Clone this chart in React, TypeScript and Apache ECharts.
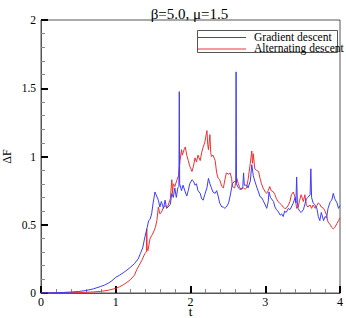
import React, { useEffect, useRef } from "react";
import * as echarts from "echarts";

const titleText = "β=5.0, μ=1.5";
const seriesNames = ["Gradient descent", "Alternating descent"];
const seriesColors = ["#3b3bff", "#f03030"];
const xTicks = [0, 1, 2, 3, 4];
const yTicks = [0, 0.5, 1, 1.5, 2];

const gradientDescent: [number, number][] = [
  [0, 0], [0.1, 0.001], [0.2, 0.002], [0.3, 0.004], [0.4, 0.007], [0.5, 0.011], [0.6, 0.018], [0.7, 0.03],
  [0.8, 0.048], [0.85, 0.058], [0.9, 0.072], [0.95, 0.09], [1.0, 0.115], [1.05, 0.13], [1.1, 0.148], [1.15, 0.168],
  [1.2, 0.19], [1.25, 0.215], [1.3, 0.25], [1.33, 0.29], [1.36, 0.33], [1.39, 0.41], [1.42, 0.48], [1.44, 0.53],
  [1.46, 0.54], [1.48, 0.58], [1.5, 0.66], [1.525, 0.74], [1.54, 0.72], [1.57, 0.68], [1.59, 0.63], [1.61, 0.67],
  [1.64, 0.62], [1.66, 0.68], [1.68, 0.62], [1.7, 0.63], [1.73, 0.65], [1.75, 0.73], [1.77, 0.7], [1.79, 0.77],
  [1.81, 0.7], [1.83, 0.77], [1.845, 0.78], [1.85, 1.475], [1.855, 0.8], [1.88, 0.75], [1.9, 0.79], [1.93, 0.74],
  [1.95, 0.71], [1.97, 0.75], [1.99, 0.8], [2.02, 0.83], [2.04, 0.82], [2.06, 0.79], [2.08, 0.8], [2.1, 0.75],
  [2.13, 0.73], [2.15, 0.69], [2.17, 0.68], [2.19, 0.72], [2.22, 0.77], [2.24, 0.84], [2.26, 0.8], [2.28, 0.77],
  [2.3, 0.74], [2.33, 0.73], [2.35, 0.75], [2.37, 0.71], [2.39, 0.66], [2.42, 0.63], [2.44, 0.63], [2.46, 0.62],
  [2.48, 0.63], [2.51, 0.66], [2.53, 0.71], [2.55, 0.77], [2.56, 0.8], [2.59, 0.82], [2.605, 0.81], [2.61, 1.62],
  [2.615, 0.8], [2.64, 0.77], [2.66, 0.76], [2.68, 0.76], [2.7, 0.78], [2.71, 0.88], [2.72, 0.79], [2.75, 0.79],
  [2.77, 0.77], [2.8, 0.82], [2.82, 0.94], [2.84, 0.86], [2.86, 0.82], [2.89, 0.77], [2.91, 0.74], [2.93, 0.705],
  [2.95, 0.7], [2.97, 0.68], [3.0, 0.645], [3.02, 0.62], [3.04, 0.67], [3.05, 0.74], [3.07, 0.7], [3.11, 0.67],
  [3.13, 0.63], [3.15, 0.61], [3.17, 0.6], [3.2, 0.57], [3.22, 0.58], [3.24, 0.56], [3.26, 0.6], [3.28, 0.59],
  [3.31, 0.62], [3.33, 0.61], [3.35, 0.63], [3.375, 0.66], [3.4, 0.7], [3.41, 0.66], [3.42, 0.85], [3.43, 0.66],
  [3.44, 0.62], [3.46, 0.6], [3.48, 0.59], [3.51, 0.61], [3.53, 0.65], [3.55, 0.69], [3.57, 0.7], [3.6, 0.72],
  [3.61, 0.91], [3.62, 0.7], [3.64, 0.66], [3.66, 0.65], [3.69, 0.62], [3.71, 0.56], [3.73, 0.53], [3.75, 0.59],
  [3.78, 0.53], [3.8, 0.56], [3.82, 0.55], [3.84, 0.62], [3.87, 0.67], [3.89, 0.68], [3.91, 0.73], [3.93, 0.69],
  [3.96, 0.66], [3.98, 0.62], [4.0, 0.64],
];

const alternatingDescent: [number, number][] = [
  [0, 0], [0.2, 0.001], [0.4, 0.002], [0.5, 0.003], [0.6, 0.005], [0.7, 0.008], [0.8, 0.012], [0.9, 0.02],
  [1.0, 0.034], [1.05, 0.045], [1.1, 0.06], [1.15, 0.078], [1.2, 0.1], [1.25, 0.13], [1.28, 0.17], [1.31, 0.2],
  [1.35, 0.24], [1.39, 0.29], [1.41, 0.3], [1.415, 0.47], [1.42, 0.33], [1.43, 0.31], [1.46, 0.4], [1.48, 0.42],
  [1.5, 0.44], [1.53, 0.48], [1.55, 0.53], [1.57, 0.63], [1.59, 0.58], [1.61, 0.59], [1.64, 0.63], [1.66, 0.64],
  [1.68, 0.63], [1.7, 0.64], [1.73, 0.69], [1.75, 0.83], [1.76, 0.73], [1.77, 0.8], [1.79, 0.78], [1.82, 0.83],
  [1.84, 0.86], [1.86, 0.97], [1.88, 1.05], [1.89, 1.01], [1.92, 1.06], [1.93, 1.07], [1.95, 1.01], [1.97, 0.97],
  [1.99, 0.93], [2.02, 0.89], [2.04, 0.93], [2.06, 0.99], [2.08, 0.96], [2.1, 1.01], [2.13, 0.97], [2.15, 1.03],
  [2.17, 1.07], [2.19, 1.1], [2.22, 1.19], [2.23, 1.09], [2.24, 1.05], [2.26, 1.16], [2.27, 1.03], [2.28, 1.0],
  [2.3, 1.01], [2.33, 0.97], [2.35, 0.88], [2.37, 0.84], [2.39, 0.83], [2.42, 0.78], [2.44, 0.77], [2.46, 0.83],
  [2.48, 0.88], [2.51, 0.87], [2.53, 0.88], [2.55, 0.84], [2.56, 0.78], [2.59, 0.77], [2.62, 0.84], [2.64, 0.8],
  [2.66, 0.77], [2.68, 0.76], [2.71, 0.77], [2.73, 0.76], [2.75, 0.77], [2.77, 0.83], [2.8, 0.95], [2.82, 1.04],
  [2.83, 0.95], [2.84, 1.02], [2.86, 0.91], [2.88, 0.9], [2.91, 0.89], [2.93, 0.84], [2.95, 0.8], [2.97, 0.77],
  [3.0, 0.74], [3.02, 0.73], [3.04, 0.75], [3.06, 0.78], [3.08, 0.75], [3.11, 0.74], [3.13, 0.72], [3.15, 0.69],
  [3.17, 0.67], [3.19, 0.66], [3.22, 0.645], [3.24, 0.63], [3.26, 0.62], [3.28, 0.62], [3.31, 0.645], [3.33, 0.67],
  [3.35, 0.72], [3.375, 0.74], [3.4, 0.7], [3.42, 0.62], [3.44, 0.63], [3.46, 0.68], [3.48, 0.72], [3.51, 0.67],
  [3.53, 0.72], [3.55, 0.645], [3.57, 0.63], [3.6, 0.645], [3.62, 0.62], [3.64, 0.645], [3.67, 0.62], [3.69, 0.64],
  [3.71, 0.66], [3.73, 0.65], [3.75, 0.63], [3.78, 0.62], [3.8, 0.6], [3.82, 0.57], [3.84, 0.52], [3.87, 0.5],
  [3.89, 0.48], [3.91, 0.47], [3.93, 0.48], [3.96, 0.51], [3.98, 0.53], [4.0, 0.55],
];

const FONT = "'Liberation Serif', 'DejaVu Serif', serif";

export default function App() {
  const ref = useRef<HTMLDivElement>(null);
  useEffect(() => {
    if (!ref.current) return;
    const chart = echarts.init(ref.current, undefined, { renderer: "svg" });
    const axisLine = { show: true, lineStyle: { color: "#555", width: 1 } };
    const legendItems: any[] = [];
    seriesNames.forEach((name, i) => {
      const y = 37.5 + i * 11.5;
      legendItems.push({
        type: "line",
        shape: { x1: 198, y1: y, x2: 246, y2: y },
        style: { stroke: seriesColors[i], lineWidth: 1 },
        z: 101,
      });
      legendItems.push({
        type: "text",
        x: 254,
        y: y - 1,
        style: { text: name, font: `11.5px ${FONT}`, fill: "#000", verticalAlign: "middle", align: "left" },
        z: 101,
      });
    });
    chart.setOption({
      animation: false,
      backgroundColor: "#fff",
      textStyle: { fontFamily: FONT },
      title: {
        text: titleText,
        left: 184.5,
        textAlign: "center",
        top: 1,
        textStyle: { fontFamily: FONT, fontSize: 15, fontWeight: "normal", color: "#000" },
      },
      grid: {
        left: 41, right: 6, top: 20, bottom: 25,
        show: true, borderColor: "#555", borderWidth: 1,
        outerBoundsMode: "none", containLabel: false,
      },
      legend: { show: false, data: seriesNames },
      xAxis: {
        type: "value",
        min: xTicks[0],
        max: xTicks[xTicks.length - 1],
        interval: 1,
        name: "t",
        nameLocation: "middle",
        nameGap: 12,
        nameMoveOverlap: false,
        nameTextStyle: { fontFamily: FONT, fontSize: 13, color: "#000", lineHeight: 12 },
        axisLine,
        axisTick: { show: true, inside: true, length: 7, lineStyle: { color: "#000", width: 2 } },
        minorTick: { show: true, splitNumber: 5, length: 4, lineStyle: { color: "#888", width: 1 } },
        splitLine: { show: false },
        axisLabel: { fontFamily: FONT, fontSize: 12, color: "#000", margin: 3, lineHeight: 11 },
      },
      yAxis: {
        type: "value",
        min: yTicks[0],
        max: yTicks[yTicks.length - 1],
        interval: 0.5,
        name: "ΔF",
        nameLocation: "middle",
        nameGap: 28,
        nameMoveOverlap: false,
        nameTextStyle: { fontFamily: FONT, fontSize: 12, color: "#000" },
        axisLine,
        axisTick: { show: true, inside: true, length: 7, lineStyle: { color: "#000", width: 2 } },
        minorTick: { show: true, splitNumber: 5, length: 4, lineStyle: { color: "#888", width: 1 } },
        splitLine: { show: false },
        axisLabel: { fontFamily: FONT, fontSize: 11.5, color: "#000", margin: 5 },
      },
      graphic: [
        {
          type: "rect",
          shape: { x: 197.5, y: 30.5, width: 140, height: 22 },
          style: { fill: "#fff", stroke: "#555", lineWidth: 1 },
          z: 99,
        },
        ...legendItems,
      ],
      series: [
        {
          name: seriesNames[0],
          type: "line",
          data: gradientDescent,
          showSymbol: false,
          symbol: "none",
          lineStyle: { color: seriesColors[0], width: 1 },
          itemStyle: { color: seriesColors[0] },
          z: 3,
        },
        {
          name: seriesNames[1],
          type: "line",
          data: alternatingDescent,
          showSymbol: false,
          symbol: "none",
          lineStyle: { color: seriesColors[1], width: 1 },
          itemStyle: { color: seriesColors[1] },
          z: 2,
        },
      ],
    });
    return () => chart.dispose();
  }, []);
  return <div ref={ref} style={{ width: 346, height: 318, position: "absolute", left: 0, top: 0 }} />;
}
